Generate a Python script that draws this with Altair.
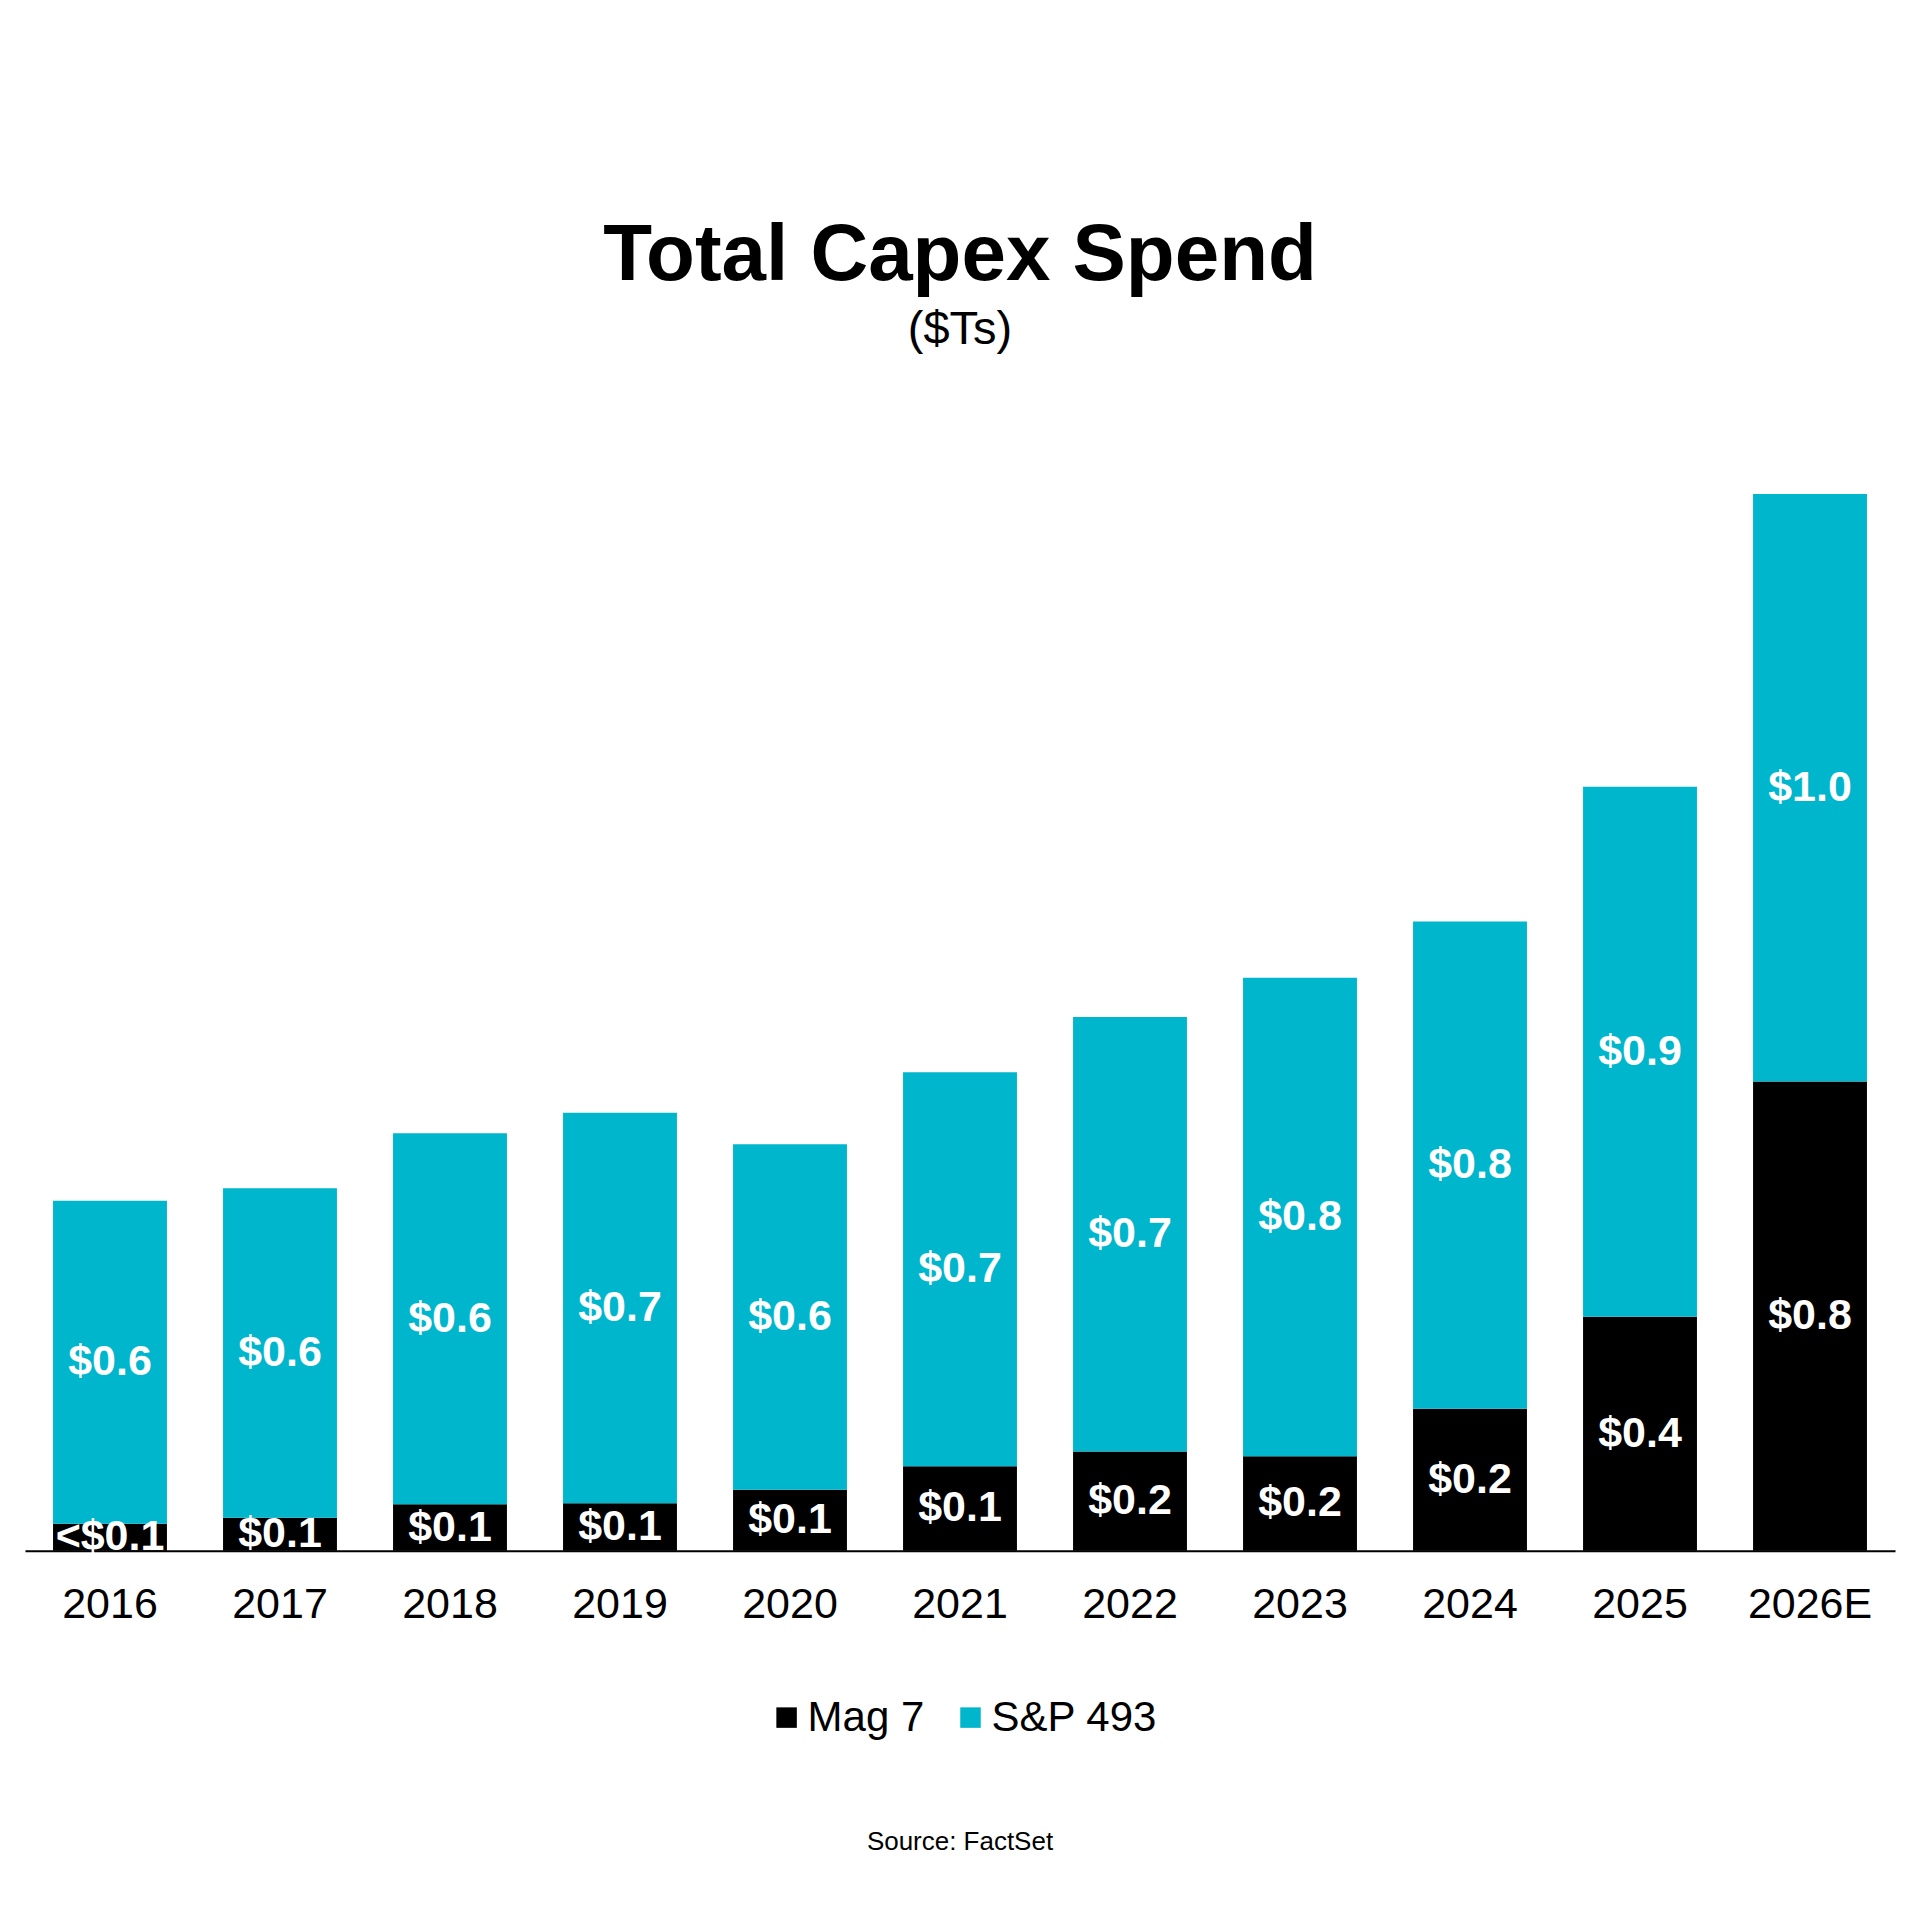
import altair as alt
import pandas as pd

years = ["2016", "2017", "2018", "2019", "2020", "2021", "2022", "2023", "2024", "2025", "2026E"]
mag7 = [0.046, 0.056, 0.079, 0.081, 0.104, 0.144, 0.169, 0.161, 0.242, 0.399, 0.80]
sp493 = [0.551, 0.562, 0.633, 0.666, 0.589, 0.672, 0.741, 0.816, 0.831, 0.904, 1.002]
mag7_labels = ["<$0.1", "$0.1", "$0.1", "$0.1", "$0.1", "$0.1", "$0.2", "$0.2", "$0.2", "$0.4", "$0.8"]
sp493_labels = ["$0.6", "$0.6", "$0.6", "$0.7", "$0.6", "$0.7", "$0.7", "$0.8", "$0.8", "$0.9", "$1.0"]
series = ["Mag 7", "S&P 493"]
colors = ["#000000", "#00B6CD"]

rows = []
for i, y in enumerate(years):
    rows.append({"year": y, "series": series[0], "value": mag7[i], "label": mag7_labels[i], "ord": 0})
    rows.append({"year": y, "series": series[1], "value": sp493[i], "label": sp493_labels[i], "ord": 1})
df = pd.DataFrame(rows)

FONT = "Liberation Sans"
W, H = 1871, 1056

x = alt.X(
    "year:N",
    sort=years,
    title=None,
    scale=alt.Scale(paddingInner=0.33, paddingOuter=0.165),
    axis=alt.Axis(
        labelAngle=0, labelFontSize=43, labelColor="#000000", labelFont=FONT,
        ticks=False, domainColor="#000000", domainWidth=2, labelPadding=33, grid=False,
    ),
)

base = alt.Chart(df).transform_stack(
    stack="value", groupby=["year"], as_=["y0", "y1"], sort=[alt.SortField("ord", order="ascending")]
).transform_calculate(mid="(datum.y0 + datum.y1) / 2")

yscale = alt.Scale(domain=[0, 1.8])

bars = base.mark_bar().encode(
    x=x,
    y=alt.Y("y0:Q", scale=yscale, axis=None),
    y2="y1:Q",
    color=alt.Color(
        "series:N",
        scale=alt.Scale(domain=series, range=colors),
        legend=alt.Legend(
            title=None, orient="none", legendX=741, legendY=1202, direction="horizontal",
            symbolType="square", symbolSize=420, symbolStrokeWidth=0, labelFontSize=42,
            labelFont=FONT, labelColor="#000000", labelOffset=0, columnPadding=25,
            labelLimit=500, padding=0,
        ),
    ),
)

labels = base.mark_text(
    color="white", font=FONT, fontWeight="bold", fontSize=43, baseline="middle", align="center"
).encode(
    x=x,
    y=alt.Y("mid:Q", scale=yscale, axis=None),
    text="label:N",
)

source = alt.Chart(pd.DataFrame({"t": ["Source: FactSet"]})).mark_text(
    font=FONT, fontSize=26, color="#000000", baseline="middle", align="center"
).encode(text="t:N", x=alt.value(W / 2), y=alt.value(1347))

chart = alt.layer(bars, labels, source).properties(
    width=W,
    height=H,
    title=alt.TitleParams(
        text="Total Capex Spend",
        subtitle="($Ts)",
        font=FONT, fontSize=80, fontWeight="bold", color="#000000",
        subtitleFont=FONT, subtitleFontSize=47, subtitleColor="#000000",
        subtitlePadding=10, anchor="middle", frame="group", offset=140,
    ),
    autosize=alt.AutoSizeParams(type="none"),
    padding={"left": 17, "top": 487, "right": 17, "bottom": 380},
).configure(background="white").configure_view(strokeWidth=0, stroke="transparent")

chart.save("out.html", embed_options={"renderer": "svg", "actions": False})
